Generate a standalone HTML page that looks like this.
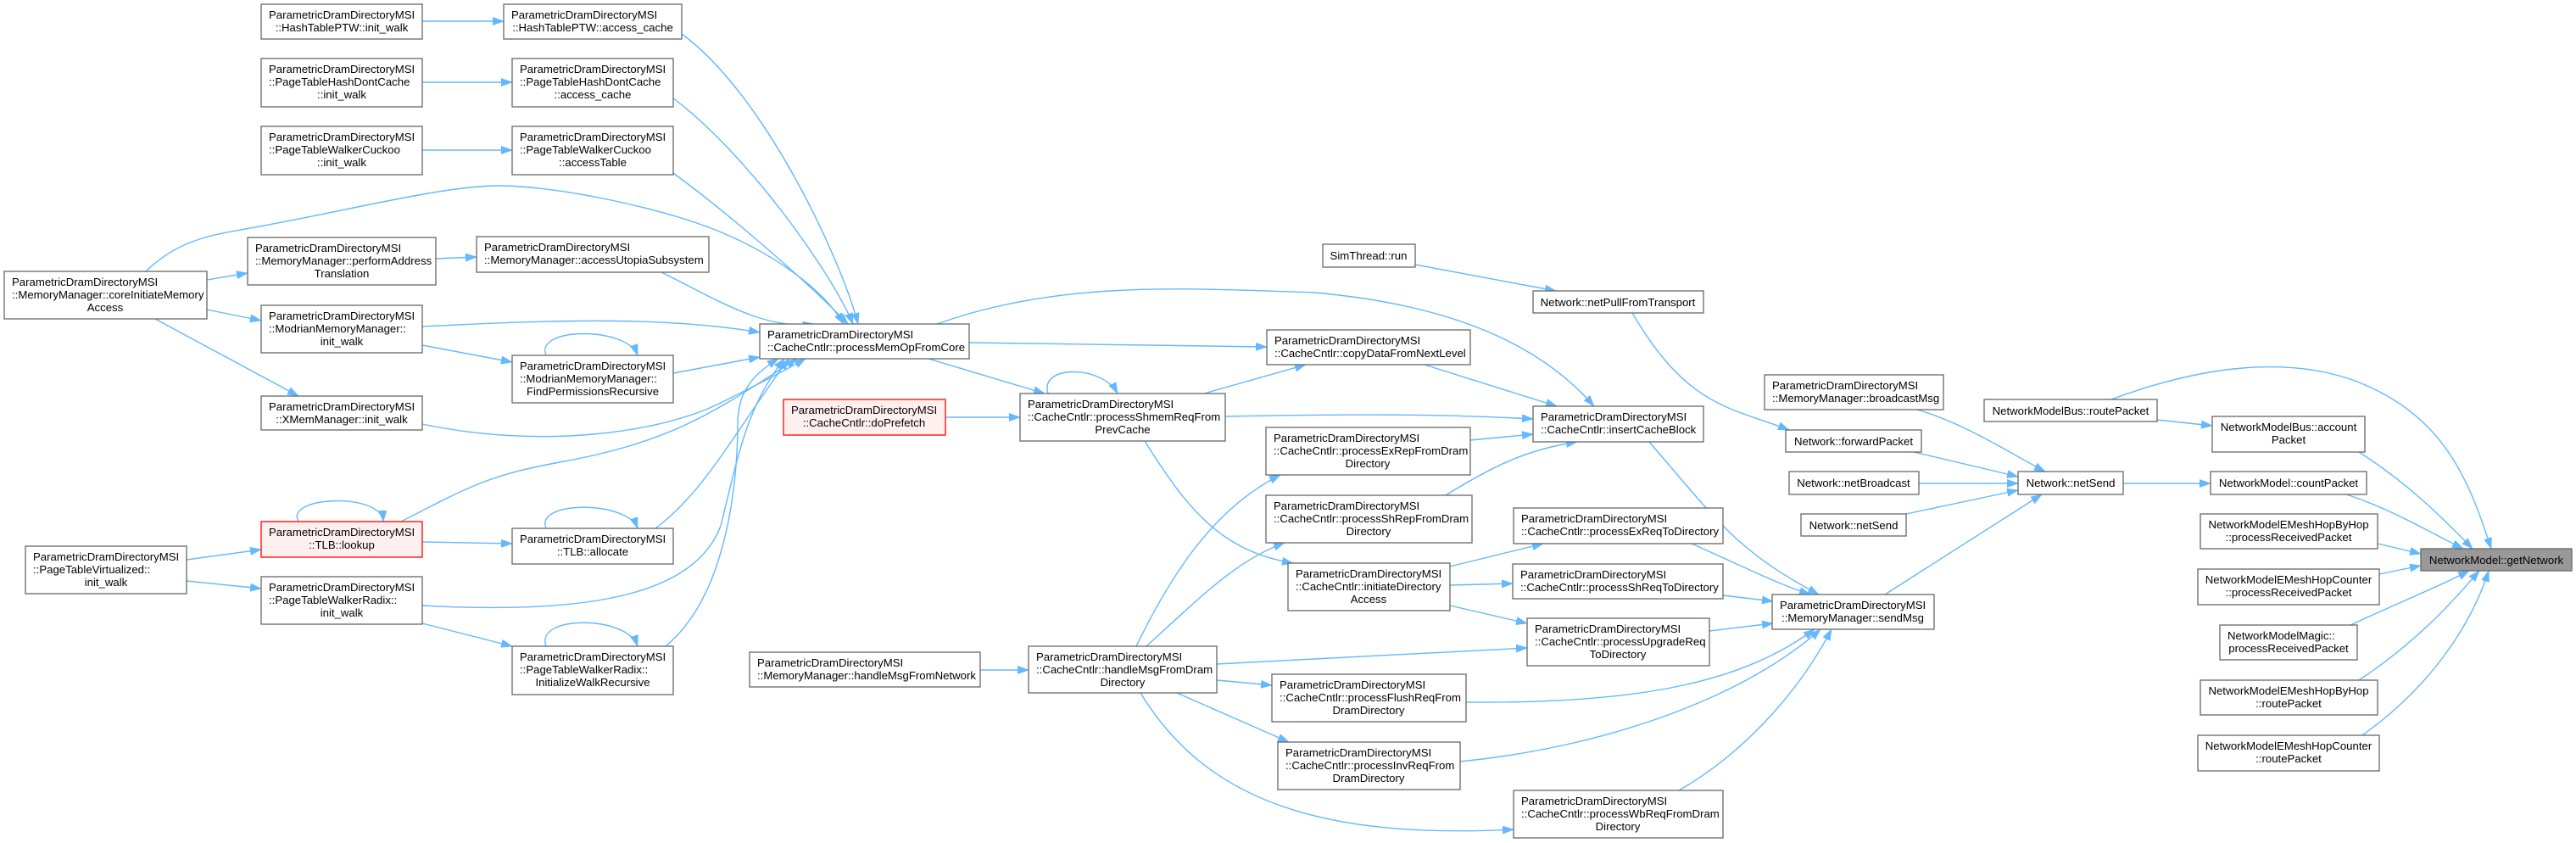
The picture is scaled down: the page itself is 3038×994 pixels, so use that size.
<!DOCTYPE html>
<html><head><meta charset="utf-8"><style>
html,body{margin:0;padding:0;background:#fff;}
svg{display:block;}
text{font-family:"Liberation Sans",Arial,sans-serif;font-size:13.2px;fill:#000;}
.b{fill:#fff;stroke:#666;stroke-width:1.3;}
.r{fill:#fff0f0;stroke:#f00;stroke-width:1.3;}
.g{fill:#999;stroke:#666;stroke-width:1.3;}
.e{fill:none;stroke:#63b8ff;stroke-width:1.4;}
.c{text-anchor:middle;}
</style></head><body>
<svg width="3038" height="994" viewBox="0 0 3038 994" xmlns="http://www.w3.org/2000/svg">
<defs><marker id="a" markerWidth="14" markerHeight="10" refX="13" refY="5" orient="auto" markerUnits="userSpaceOnUse"><path d="M0,0 L14,5 L0,10 z" fill="#63b8ff"/></marker></defs>
<g marker-end="url(#a)">
<path class="e" d="M498,25 L594,25"/>
<path class="e" d="M498,97 L604,97"/>
<path class="e" d="M498,177 L604,177"/>
<path class="e" d="M804,40 C900,110 990,300 1012,382"/>
<path class="e" d="M794,116 C880,180 980,320 1006,382"/>
<path class="e" d="M794,204 C870,260 960,340 1000,382"/>
<path class="e" d="M172,320 C210,283 250,277 289,270 C400,251 520,219 588,219 C656,219 780,245 846,272 C912,299 970,340 995,382"/>
<path class="e" d="M244,330 L292,322"/>
<path class="e" d="M514,305 L562,303"/>
<path class="e" d="M780,321 C840,350 900,390 960,382"/>
<path class="e" d="M244,365 L308,378"/>
<path class="e" d="M183,376 L352,467"/>
<path class="e" d="M498,385 C640,378 780,372 896,392"/>
<path class="e" d="M498,407 L604,427"/>
<path class="e" d="M794,440 L896,421"/>
<path class="e" d="M644,419 C630,385 740,385 752,419"/>
<path class="e" d="M498,500 C640,530 780,510 850,475 C890,455 920,440 950,423"/>
<path class="e" d="M473,615 C560,570 580,560 660,545 C800,520 850,480 940,423"/>
<path class="e" d="M773,623 C830,580 860,520 930,423"/>
<path class="e" d="M498,714 C700,725 820,700 850,620 C870,540 880,480 925,423"/>
<path class="e" d="M785,762 C860,700 870,560 870,500 C870,460 890,440 918,423"/>
<path class="e" d="M220,660 L308,648"/>
<path class="e" d="M220,685 L308,694"/>
<path class="e" d="M498,639 L604,641"/>
<path class="e" d="M352,615 C335,585 450,580 452,615"/>
<path class="e" d="M644,623 C630,590 740,590 752,623"/>
<path class="e" d="M644,762 C630,725 740,725 752,762"/>
<path class="e" d="M498,735 L604,762"/>
<path class="e" d="M1143,404 L1494,409"/>
<path class="e" d="M1095,423 L1232,464"/>
<path class="e" d="M1105,382 C1250,330 1400,340 1550,345 C1720,360 1820,410 1880,479"/>
<path class="e" d="M1115,492 L1203,492"/>
<path class="e" d="M1236,464 C1225,430 1300,430 1318,464"/>
<path class="e" d="M1420,464 L1540,430"/>
<path class="e" d="M1445,491 C1600,488 1700,488 1808,494"/>
<path class="e" d="M1350,520 C1400,600 1440,650 1525,664"/>
<path class="e" d="M1680,430 L1836,479"/>
<path class="e" d="M1734,519 L1808,512"/>
<path class="e" d="M1705,584 C1760,550 1800,530 1860,521"/>
<path class="e" d="M1945,521 C2030,620 2050,650 2145,701"/>
<path class="e" d="M1669,312 L1835,343"/>
<path class="e" d="M1925,369 C1990,480 2040,480 2110,507"/>
<path class="e" d="M1156,790 L1213,790"/>
<path class="e" d="M1340,762 C1380,680 1430,600 1510,560"/>
<path class="e" d="M1352,762 C1420,700 1460,660 1515,640"/>
<path class="e" d="M1435,783 L1801,764"/>
<path class="e" d="M1435,802 L1500,808"/>
<path class="e" d="M1388,817 L1520,875"/>
<path class="e" d="M1345,817 C1420,940 1550,990 1785,978"/>
<path class="e" d="M1710,668 L1820,641"/>
<path class="e" d="M1710,690 L1784,688"/>
<path class="e" d="M1710,714 L1801,735"/>
<path class="e" d="M1995,641 C2060,670 2100,690 2135,701"/>
<path class="e" d="M2032,702 L2091,709"/>
<path class="e" d="M2016,744 L2091,735"/>
<path class="e" d="M1729,828 C1950,830 2060,800 2140,742"/>
<path class="e" d="M1722,898 C1900,880 2060,820 2147,742"/>
<path class="e" d="M1980,932 C2070,880 2130,800 2160,742"/>
<path class="e" d="M2261,483 C2320,500 2380,540 2412,556"/>
<path class="e" d="M2257,533 L2380,562"/>
<path class="e" d="M2263,570 L2380,570"/>
<path class="e" d="M2248,606 L2380,578"/>
<path class="e" d="M2223,701 L2408,583"/>
<path class="e" d="M2504,570 L2607,570"/>
<path class="e" d="M2544,495 L2609,502"/>
<path class="e" d="M2490,471 C2600,430 2700,420 2780,450 C2880,490 2910,560 2938,647"/>
<path class="e" d="M2782,533 C2840,570 2880,610 2916,647"/>
<path class="e" d="M2767,583 C2820,600 2870,630 2905,647"/>
<path class="e" d="M2804,641 L2855,653"/>
<path class="e" d="M2806,677 L2855,667"/>
<path class="e" d="M2772,737 C2830,710 2880,690 2912,673"/>
<path class="e" d="M2782,802 C2860,750 2900,700 2924,673"/>
<path class="e" d="M2786,867 C2880,800 2920,720 2935,673"/>
</g>
<rect class="b" x="308" y="5" width="190" height="41"/><text x="317" y="22">ParametricDramDirectoryMSI</text><text class="c" x="403" y="37">::HashTablePTW::init_walk</text>
<rect class="b" x="594" y="5" width="210" height="41"/><text x="603" y="22">ParametricDramDirectoryMSI</text><text class="c" x="699" y="37">::HashTablePTW::access_cache</text>
<rect class="b" x="308" y="69" width="190" height="57"/><text x="317" y="86">ParametricDramDirectoryMSI</text><text x="317" y="101">::PageTableHashDontCache</text><text class="c" x="403" y="116">::init_walk</text>
<rect class="b" x="604" y="69" width="190" height="57"/><text x="613" y="86">ParametricDramDirectoryMSI</text><text x="613" y="101">::PageTableHashDontCache</text><text class="c" x="699" y="116">::access_cache</text>
<rect class="b" x="308" y="149" width="190" height="57"/><text x="317" y="166">ParametricDramDirectoryMSI</text><text x="317" y="181">::PageTableWalkerCuckoo</text><text class="c" x="403" y="196">::init_walk</text>
<rect class="b" x="604" y="149" width="190" height="57"/><text x="613" y="166">ParametricDramDirectoryMSI</text><text x="613" y="181">::PageTableWalkerCuckoo</text><text class="c" x="699" y="196">::accessTable</text>
<rect class="b" x="292" y="280" width="222" height="56"/><text x="301" y="297">ParametricDramDirectoryMSI</text><text x="301" y="312">::MemoryManager::performAddress</text><text class="c" x="403" y="327">Translation</text>
<rect class="b" x="562" y="279" width="274" height="42"/><text x="571" y="296">ParametricDramDirectoryMSI</text><text x="571" y="311">::MemoryManager::accessUtopiaSubsystem</text>
<rect class="b" x="5" y="320" width="239" height="56"/><text x="14" y="337">ParametricDramDirectoryMSI</text><text x="14" y="352">::MemoryManager::coreInitiateMemory</text><text class="c" x="124" y="367">Access</text>
<rect class="b" x="308" y="360" width="190" height="56"/><text x="317" y="377">ParametricDramDirectoryMSI</text><text x="317" y="392">::ModrianMemoryManager::</text><text class="c" x="403" y="407">init_walk</text>
<rect class="b" x="896" y="382" width="247" height="41"/><text x="905" y="399">ParametricDramDirectoryMSI</text><text x="905" y="414">::CacheCntlr::processMemOpFromCore</text>
<rect class="b" x="604" y="419" width="190" height="56"/><text x="613" y="436">ParametricDramDirectoryMSI</text><text x="613" y="451">::ModrianMemoryManager::</text><text class="c" x="699" y="466">FindPermissionsRecursive</text>
<rect class="b" x="308" y="467" width="190" height="40"/><text x="317" y="484">ParametricDramDirectoryMSI</text><text class="c" x="403" y="499">::XMemManager::init_walk</text>
<rect class="r" x="924" y="471" width="191" height="42"/><text x="933" y="488">ParametricDramDirectoryMSI</text><text class="c" x="1019" y="503">::CacheCntlr::doPrefetch</text>
<rect class="r" x="308" y="615" width="190" height="42"/><text x="317" y="632">ParametricDramDirectoryMSI</text><text class="c" x="403" y="647">::TLB::lookup</text>
<rect class="b" x="604" y="623" width="190" height="42"/><text x="613" y="640">ParametricDramDirectoryMSI</text><text class="c" x="699" y="655">::TLB::allocate</text>
<rect class="b" x="30" y="644" width="190" height="56"/><text x="39" y="661">ParametricDramDirectoryMSI</text><text x="39" y="676">::PageTableVirtualized::</text><text class="c" x="125" y="691">init_walk</text>
<rect class="b" x="308" y="680" width="190" height="56"/><text x="317" y="697">ParametricDramDirectoryMSI</text><text x="317" y="712">::PageTableWalkerRadix::</text><text class="c" x="403" y="727">init_walk</text>
<rect class="b" x="604" y="762" width="190" height="57"/><text x="613" y="779">ParametricDramDirectoryMSI</text><text x="613" y="794">::PageTableWalkerRadix::</text><text class="c" x="699" y="809">InitializeWalkRecursive</text>
<rect class="b" x="884" y="769" width="272" height="41"/><text x="893" y="786">ParametricDramDirectoryMSI</text><text x="893" y="801">::MemoryManager::handleMsgFromNetwork</text>
<rect class="b" x="1560" y="288" width="109" height="27"/><text class="c" x="1614" y="306">SimThread::run</text>
<rect class="b" x="1808" y="343" width="201" height="26"/><text class="c" x="1908" y="361">Network::netPullFromTransport</text>
<rect class="b" x="1494" y="389" width="240" height="41"/><text x="1503" y="406">ParametricDramDirectoryMSI</text><text x="1503" y="421">::CacheCntlr::copyDataFromNextLevel</text>
<rect class="b" x="1203" y="464" width="242" height="56"/><text x="1212" y="481">ParametricDramDirectoryMSI</text><text x="1212" y="496">::CacheCntlr::processShmemReqFrom</text><text class="c" x="1324" y="511">PrevCache</text>
<rect class="b" x="1808" y="479" width="201" height="42"/><text x="1817" y="496">ParametricDramDirectoryMSI</text><text x="1817" y="511">::CacheCntlr::insertCacheBlock</text>
<rect class="b" x="1493" y="504" width="241" height="56"/><text x="1502" y="521">ParametricDramDirectoryMSI</text><text x="1502" y="536">::CacheCntlr::processExRepFromDram</text><text class="c" x="1613" y="551">Directory</text>
<rect class="b" x="1493" y="584" width="243" height="56"/><text x="1502" y="601">ParametricDramDirectoryMSI</text><text x="1502" y="616">::CacheCntlr::processShRepFromDram</text><text class="c" x="1614" y="631">Directory</text>
<rect class="b" x="1785" y="599" width="247" height="42"/><text x="1794" y="616">ParametricDramDirectoryMSI</text><text x="1794" y="631">::CacheCntlr::processExReqToDirectory</text>
<rect class="b" x="1519" y="664" width="191" height="56"/><text x="1528" y="681">ParametricDramDirectoryMSI</text><text x="1528" y="696">::CacheCntlr::initiateDirectory</text><text class="c" x="1614" y="711">Access</text>
<rect class="b" x="1784" y="665" width="248" height="41"/><text x="1793" y="682">ParametricDramDirectoryMSI</text><text x="1793" y="697">::CacheCntlr::processShReqToDirectory</text>
<rect class="b" x="1801" y="729" width="215" height="56"/><text x="1810" y="746">ParametricDramDirectoryMSI</text><text x="1810" y="761">::CacheCntlr::processUpgradeReq</text><text class="c" x="1908" y="776">ToDirectory</text>
<rect class="b" x="1213" y="762" width="222" height="55"/><text x="1222" y="779">ParametricDramDirectoryMSI</text><text x="1222" y="794">::CacheCntlr::handleMsgFromDram</text><text class="c" x="1324" y="809">Directory</text>
<rect class="b" x="1500" y="795" width="229" height="56"/><text x="1509" y="812">ParametricDramDirectoryMSI</text><text x="1509" y="827">::CacheCntlr::processFlushReqFrom</text><text class="c" x="1614" y="842">DramDirectory</text>
<rect class="b" x="1507" y="875" width="215" height="56"/><text x="1516" y="892">ParametricDramDirectoryMSI</text><text x="1516" y="907">::CacheCntlr::processInvReqFrom</text><text class="c" x="1614" y="922">DramDirectory</text>
<rect class="b" x="1785" y="932" width="247" height="56"/><text x="1794" y="949">ParametricDramDirectoryMSI</text><text x="1794" y="964">::CacheCntlr::processWbReqFromDram</text><text class="c" x="1908" y="979">Directory</text>
<rect class="b" x="2081" y="442" width="211" height="41"/><text x="2090" y="459">ParametricDramDirectoryMSI</text><text x="2090" y="474">::MemoryManager::broadcastMsg</text>
<rect class="b" x="2106" y="507" width="160" height="26"/><text class="c" x="2186" y="525">Network::forwardPacket</text>
<rect class="b" x="2110" y="556" width="153" height="27"/><text class="c" x="2186" y="574">Network::netBroadcast</text>
<rect class="b" x="2124" y="606" width="124" height="26"/><text class="c" x="2186" y="624">Network::netSend</text>
<rect class="b" x="2090" y="701" width="191" height="41"/><text x="2099" y="718">ParametricDramDirectoryMSI</text><text class="c" x="2185" y="733">::MemoryManager::sendMsg</text>
<rect class="b" x="2380" y="556" width="124" height="27"/><text class="c" x="2442" y="574">Network::netSend</text>
<rect class="b" x="2340" y="471" width="204" height="26"/><text class="c" x="2442" y="489">NetworkModelBus::routePacket</text>
<rect class="b" x="2609" y="491" width="180" height="42"/><text class="c" x="2699" y="508">NetworkModelBus::account</text><text class="c" x="2699" y="523">Packet</text>
<rect class="b" x="2607" y="556" width="184" height="27"/><text class="c" x="2699" y="574">NetworkModel::countPacket</text>
<rect class="b" x="2595" y="606" width="209" height="41"/><text class="c" x="2699" y="623">NetworkModelEMeshHopByHop</text><text class="c" x="2699" y="638">::processReceivedPacket</text>
<rect class="g" x="2855" y="647" width="178" height="26"/><text class="c" x="2944" y="665">NetworkModel::getNetwork</text>
<rect class="b" x="2592" y="671" width="214" height="42"/><text class="c" x="2699" y="688">NetworkModelEMeshHopCounter</text><text class="c" x="2699" y="703">::processReceivedPacket</text>
<rect class="b" x="2618" y="737" width="162" height="41"/><text x="2627" y="754">NetworkModelMagic::</text><text class="c" x="2699" y="769">processReceivedPacket</text>
<rect class="b" x="2595" y="802" width="209" height="41"/><text class="c" x="2699" y="819">NetworkModelEMeshHopByHop</text><text class="c" x="2699" y="834">::routePacket</text>
<rect class="b" x="2592" y="867" width="214" height="42"/><text class="c" x="2699" y="884">NetworkModelEMeshHopCounter</text><text class="c" x="2699" y="899">::routePacket</text>
</svg>
</body></html>
